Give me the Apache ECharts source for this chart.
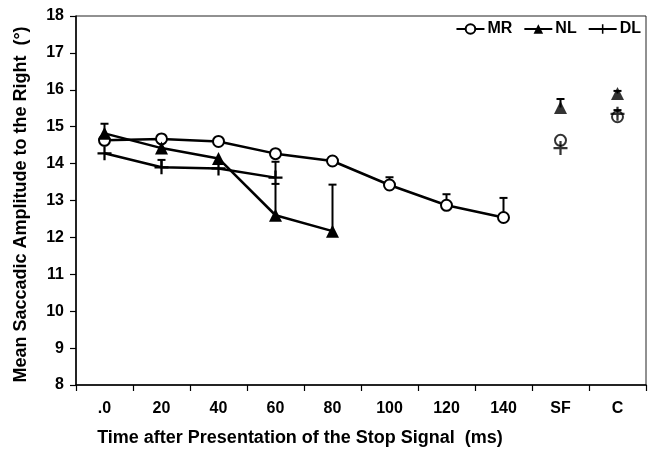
<!DOCTYPE html>
<html>
<head>
<meta charset="utf-8">
<script src="https://cdn.jsdelivr.net/npm/echarts@6/dist/echarts.min.js"></script>
<style>
  html, body { margin: 0; padding: 0; background: #fff; }
  #chart { width: 652px; height: 454px; }
</style>
</head>
<body>
<div id="chart"></div>
<script>
// Time bins after the stop signal, plus the SF and C conditions
const categories = ['.0', '20', '40', '60', '80', '100', '120', '140', 'SF', 'C'];
// Number of leading categories that form the connected time course
const timeBinCount = 8;

// Mean saccadic amplitude (deg) per group
const mrMeans = [14.63, 14.67, 14.60, 14.27, 14.07, 13.42, 12.87, 12.54, 14.63, 15.27];
const nlMeans = [14.82, 14.42, 14.14, 12.60, 12.17, null, null, null, 15.52, 15.90];
const dlMeans = [14.28, 13.90, 13.87, 13.62, null, null, null, null, 14.42, 15.35];

// Upper end of the error bars (mean + SE); null where no bar is drawn
const mrUpper = [null, 14.78, 14.68, null, 14.17, 13.63, 13.17, 13.07, null, 15.45];
const nlUpper = [15.08, null, null, 13.45, 13.43, null, null, null, 15.75, 15.97];
const dlUpper = [null, 14.10, null, 14.05, null, null, null, null, null, null];

// Y axis range and step
const yMin = 8, yMax = 18, yStep = 1;

const FONT = '"Liberation Sans", Arial, sans-serif';
const plusPath = 'path://M0,42 H100 V58 H0 Z M42,0 H58 V100 H42 Z';

function lineData(means) {
  return means.map((v, i) => (i < timeBinCount && v != null) ? v : '-');
}
function pointData(means) {
  return means.map((v, i) => (i >= timeBinCount && v != null) ? v : '-');
}
function errData(means, upper) {
  const out = [];
  upper.forEach((u, i) => { if (u != null && means[i] != null) out.push([i, means[i], u]); });
  return out;
}

function errorBarSeries(name, means, upper) {
  return {
    type: 'custom',
    name: name,
    data: errData(means, upper),
    encode: { x: 0, y: [1, 2] },
    z: 2,
    silent: true,
    renderItem: function (params, api) {
      const i = api.value(0);
      const p0 = api.coord([i, api.value(1)]);
      const p1 = api.coord([i, api.value(2)]);
      const half = 4;
      const style = { stroke: '#000', lineWidth: 2, fill: null };
      return {
        type: 'group',
        children: [
          { type: 'line', shape: { x1: p0[0], y1: p0[1], x2: p1[0], y2: p1[1] }, style: style },
          { type: 'line', shape: { x1: p1[0] - half, y1: p1[1], x2: p1[0] + half, y2: p1[1] }, style: style }
        ]
      };
    }
  };
}

const mrMarker = {
  symbol: 'circle', symbolSize: 11,
  itemStyle: { color: '#fff', borderColor: '#000', borderWidth: 2 }
};
const nlMarker = {
  symbol: 'triangle', symbolSize: 13,
  itemStyle: { color: '#000', borderColor: '#000', borderWidth: 0 }
};
const dlMarker = {
  symbol: plusPath, symbolSize: 14,
  itemStyle: { color: '#000', borderWidth: 0 }
};

function groupSeries(name, means, marker) {
  return [
    Object.assign({
      type: 'line', name: name, data: lineData(means),
      lineStyle: { color: '#000', width: 2.5 },
      showAllSymbol: true, z: 3, animation: false
    }, marker),
    Object.assign({
      type: 'scatter', name: name, data: pointData(means), z: 3, animation: false
    }, marker)
  ];
}

const chart = echarts.init(document.getElementById('chart'), null, { renderer: 'canvas' });

chart.setOption({
  animation: false,
  backgroundColor: '#fff',
  grid: {
    left: 76, right: 6, top: 16, bottom: 69,
    show: true, borderColor: '#222', borderWidth: 1, backgroundColor: 'transparent'
  },
  legend: {
    top: 16, right: 6,
    itemGap: 11, itemWidth: 28, itemHeight: 12,
    textStyle: { fontFamily: FONT, fontWeight: 'bold', fontSize: 16, color: '#000', padding: [0, 0, 0, -2] },
    data: ['MR', 'NL', 'DL']
  },
  xAxis: {
    type: 'category',
    data: categories,
    boundaryGap: true,
    name: 'Time after Presentation of the Stop Signal  (ms)',
    nameLocation: 'middle',
    nameGap: 44,
    nameTextStyle: {
      fontFamily: FONT, fontWeight: 'bold', fontSize: 18, color: '#000',
      padding: [0, 122, 0, 0]
    },
    axisLine: { lineStyle: { color: '#000', width: 1.5 } },
    axisTick: { show: true, inside: false, length: 6, lineStyle: { color: '#000', width: 1.2 } },
    axisLabel: { fontFamily: FONT, fontWeight: 'bold', fontSize: 16, color: '#000', margin: 16, interval: 0 },
    splitLine: { show: false }
  },
  yAxis: {
    type: 'value',
    min: yMin, max: yMax, interval: yStep,
    name: 'Mean Saccadic Amplitude to the Right  (°)',
    nameLocation: 'middle',
    nameGap: 46,
    nameTextStyle: { fontFamily: FONT, fontWeight: 'bold', fontSize: 18, color: '#000', padding: [0, 0, 0, -8] },
    axisLine: { show: true, lineStyle: { color: '#000', width: 1.5 } },
    axisTick: { show: true, inside: false, length: 6, lineStyle: { color: '#000', width: 1.2 } },
    axisLabel: { fontFamily: FONT, fontWeight: 'bold', fontSize: 16, color: '#000', margin: 12 },
    splitLine: { show: false }
  },
  series: [
    errorBarSeries('MR-err', mrMeans, mrUpper),
    errorBarSeries('NL-err', nlMeans, nlUpper),
    errorBarSeries('DL-err', dlMeans, dlUpper),
    ...groupSeries('MR', mrMeans, mrMarker),
    ...groupSeries('NL', nlMeans, nlMarker),
    ...groupSeries('DL', dlMeans, dlMarker)
  ]
});
</script>
</body>
</html>
